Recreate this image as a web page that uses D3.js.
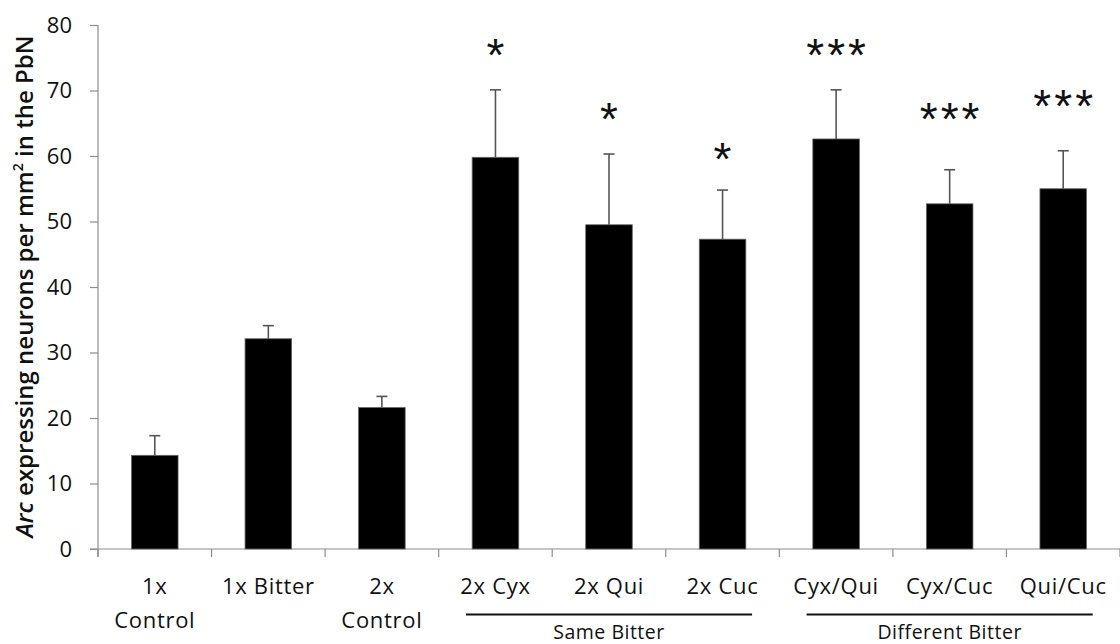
<!DOCTYPE html>
<html>
<head>
<meta charset="utf-8">
<script src="https://cdn.jsdelivr.net/npm/d3@7/dist/d3.min.js"></script>
<style>
  html, body { margin: 0; padding: 0; background: #fff; }
  svg { display: block; }
  text { font-family: "Open Sans", "Liberation Sans", sans-serif; fill: #111; }
</style>
</head>
<body>
<svg id="chart" width="1120" height="644"></svg>
<script>
// ---- data ----
const categories = ["1x Control", "1x Bitter", "2x Control", "2x Cyx", "2x Qui", "2x Cuc", "Cyx/Qui", "Cyx/Cuc", "Qui/Cuc"];
const labelLines = [["1x", "Control"], ["1x Bitter"], ["2x", "Control"], ["2x Cyx"], ["2x Qui"], ["2x Cuc"], ["Cyx/Qui"], ["Cyx/Cuc"], ["Qui/Cuc"]];
const means = [14.3, 32.1, 21.6, 59.8, 49.5, 47.3, 62.6, 52.7, 55.0];
const errorTops = [17.3, 34.1, 23.3, 70.1, 60.3, 54.8, 70.1, 57.9, 60.8];
const significance = ["", "", "", "*", "*", "*", "***", "***", "***"];
const significanceLevel = [null, null, null, 76.3, 66.6, 60.5, 76.3, 66.6, 68.5];
const groups = [
  { label: "Same Bitter", from: "2x Cyx", to: "2x Cuc" },
  { label: "Different Bitter", from: "Cyx/Qui", to: "Qui/Cuc" }
];
const yTicks = [0, 10, 20, 30, 40, 50, 60, 70, 80];

// ---- layout ----
const svg = d3.select("#chart");
const pLeft = 98, pRight = 1120, pTop = 25, pBottom = 549;
const axisColor = "#8c8c8c";

const x = d3.scaleBand().domain(categories).range([pLeft, pRight])
  .paddingInner(0.59).paddingOuter(0.295);
const y = d3.scaleLinear().domain([0, 80]).range([pBottom, pTop]);
const step = x.step();

// y axis
const yAxis = svg.append("g").attr("transform", `translate(${pLeft},0)`)
  .call(d3.axisLeft(y).tickValues(yTicks).tickSize(8).tickPadding(18));
yAxis.select(".domain").attr("stroke", axisColor).attr("stroke-width", 1.2)
  .attr("d", `M0,${pTop}V${pBottom + 8}`);
yAxis.selectAll(".tick line").attr("stroke", axisColor).attr("stroke-width", 1.2);
yAxis.selectAll(".tick text").attr("font-size", 22).attr("fill", "#111")
  .style("font-family", "'Open Sans', sans-serif");

// x axis (ticks at category boundaries)
const boundaries = categories.map(c => x(c) - (step - x.bandwidth()) / 2).concat([pRight]);
const xg = svg.append("g");
xg.append("line").attr("x1", pLeft - 8).attr("x2", pRight).attr("y1", pBottom).attr("y2", pBottom)
  .attr("stroke", axisColor).attr("stroke-width", 1.2);
xg.selectAll("line.xt").data(boundaries).join("line").attr("class", "xt")
  .attr("x1", d => d).attr("x2", d => d).attr("y1", pBottom).attr("y2", pBottom + 8)
  .attr("stroke", axisColor).attr("stroke-width", 1.2);

// bars
svg.append("g").selectAll("rect").data(categories).join("rect")
  .attr("x", d => x(d))
  .attr("width", x.bandwidth())
  .attr("y", (d, i) => y(means[i]))
  .attr("height", (d, i) => y(0) - y(means[i]))
  .attr("fill", "#000")
  .attr("stroke", "#666").attr("stroke-width", 0.8);

// error bars (upper only)
const eg = svg.append("g").attr("stroke", "#555").attr("stroke-width", 1.6);
categories.forEach((c, i) => {
  const cx = x(c) + x.bandwidth() / 2;
  eg.append("line").attr("x1", cx).attr("x2", cx).attr("y1", y(means[i])).attr("y2", y(errorTops[i]));
  eg.append("line").attr("x1", cx - 5.5).attr("x2", cx + 5.5).attr("y1", y(errorTops[i])).attr("y2", y(errorTops[i]));
});

// significance asterisks
svg.append("g").selectAll("text").data(categories.filter((c, i) => significance[i])).join("text")
  .attr("x", d => x(d) + x.bandwidth() / 2 + 1.5)
  .attr("y", d => y(significanceLevel[categories.indexOf(d)]) + 22)
  .attr("text-anchor", "middle")
  .attr("font-size", 46)
  .attr("letter-spacing", 3)
  .style("font-family", "'Liberation Sans', sans-serif")
  .text(d => significance[categories.indexOf(d)]);

// x labels
const xl = svg.append("g");
categories.forEach((c, i) => {
  const cx = x(c) + x.bandwidth() / 2;
  labelLines[i].forEach((ln, j) => {
    xl.append("text").attr("x", cx).attr("y", 594 + j * 34)
      .attr("text-anchor", "middle").attr("font-size", 22)
      .attr("letter-spacing", 0.7).text(ln);
  });
});

// group lines
groups.forEach(g => {
  const x1 = x(g.from) + x.bandwidth() / 2 - 0.26 * step;
  const x2 = x(g.to) + x.bandwidth() / 2 + 0.26 * step;
  svg.append("line").attr("x1", x1).attr("x2", x2).attr("y1", 614.5).attr("y2", 614.5)
    .attr("stroke", "#111").attr("stroke-width", 2.2);
  svg.append("text").attr("x", (x1 + x2) / 2).attr("y", 638.5)
    .attr("text-anchor", "middle").attr("font-size", 19.5)
    .attr("letter-spacing", 0.5).text(g.label);
});

// y axis title
const yt = svg.append("text")
  .attr("transform", `translate(33,286.5) rotate(-90)`)
  .attr("text-anchor", "middle").attr("font-size", 24).attr("font-weight", 600);
yt.append("tspan").attr("font-style", "italic").text("Arc");
yt.append("tspan").text(" expressing neurons per mm");
yt.append("tspan").attr("font-size", 14).attr("dy", -10).text("2");
yt.append("tspan").attr("dy", 10).text(" in the PbN");
</script>
</body>
</html>
